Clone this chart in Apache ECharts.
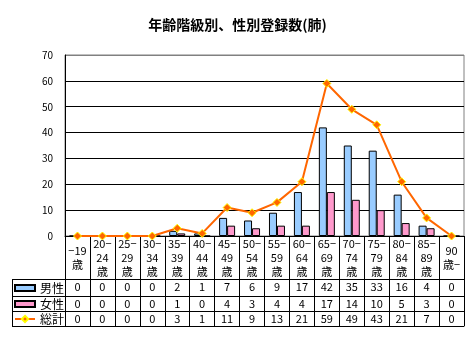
<!DOCTYPE html>
<html><head><meta charset="utf-8">
<script src="https://cdn.jsdelivr.net/npm/echarts@6/dist/echarts.min.js"></script>
<style>html,body{margin:0;padding:0;background:#fff}#c{width:475px;height:338px}</style>
</head><body><div id="c"></div>
<script>
const categories = ['−19\n歳','20−\n24\n歳','25−\n29\n歳','30−\n34\n歳','35−\n39\n歳','40−\n44\n歳','45−\n49\n歳','50−\n54\n歳','55−\n59\n歳','60−\n64\n歳','65−\n69\n歳','70−\n74\n歳','75−\n79\n歳','80−\n84\n歳','85−\n89\n歳','90\n歳−'];
const male   = [0,0,0,0,2,1,7,6,9,17,42,35,33,16,4,0];
const female = [0,0,0,0,1,0,4,3,4,4,17,14,10,5,3,0];
const total  = [0,0,0,0,3,1,11,9,13,21,59,49,43,21,7,0];
const yMax = 70, yStep = 10;

const FONT = 'Noto Sans CJK JP';
const chart = echarts.init(document.getElementById('c'));
function rowAxis(vals, offset, showLabel) {
  return {
    type: 'category', gridIndex: 0, position: 'bottom', offset: offset,
    data: vals.map(String),
    axisLine: {show: true, lineStyle: {color: '#000', width: 1}},
    axisTick: {show: false},
    axisLabel: {show: showLabel, interval: 0, margin: 8, verticalAlign: 'middle', fontSize: 11, color: '#000', fontFamily: FONT},
    splitLine: {show: false}
  };
}
const lineSeg = (x1,y1,x2,y2) => ({type:'line', shape:{x1,y1,x2,y2}, style:{stroke:'#000', lineWidth:1}, silent:true});
const legendText = {fontSize: 12, color: '#000', fontFamily: FONT, lineHeight: 14};
chart.setOption({
  animation: false,
  backgroundColor: '#fff',
  title: {text: '年齢階級別、性別登録数(肺)', left: 'center', top: 13,
    textStyle: {fontSize: 14, fontWeight: 'bold', color: '#000', fontFamily: FONT}},
  grid: {left: 65, right: 11, top: 55, bottom: 102, show: true, borderColor: '#808080', borderWidth: 1, backgroundColor: 'transparent'},
  legend: [
    {data: [{name: '男性', icon: 'rect'}], left: 14, top: 281, padding: 0, itemWidth: 20, itemHeight: 6, textStyle: legendText},
    {data: [{name: '女性', icon: 'rect'}], left: 14, top: 297, padding: 0, itemWidth: 20, itemHeight: 6, textStyle: legendText},
    {data: ['総計'], left: 14, top: 312, padding: 0, itemWidth: 20, itemHeight: 8, textStyle: legendText}
  ],
  xAxis: [
    {type: 'category', data: categories, boundaryGap: true,
     axisLine: {show: true, lineStyle: {color: '#000'}},
     axisTick: {show: true, interval: 0, length: 90, lineStyle: {color: '#000'}},
     axisLabel: {interval: 0, margin: 22, verticalAlign: 'middle', fontSize: 11, lineHeight: 14, color: '#000', fontFamily: FONT}},
    rowAxis(male, 43, true),
    rowAxis(female, 60, true),
    rowAxis(total, 75, true),
    rowAxis(total, 90, false)
  ],
  yAxis: {type: 'value', min: 0, max: yMax, interval: yStep,
    axisLine: {show: true, lineStyle: {color: '#000'}},
    axisTick: {show: false},
    axisLabel: {fontSize: 10, color: '#000', margin: 12, fontFamily: FONT},
    splitLine: {show: true, lineStyle: {color: ['#000','#000','#000','#000','#000','#000','#000','#808080'], width: 1}}},
  graphic: [
    lineSeg(12, 279.5, 65, 279.5),
    lineSeg(12, 296.5, 65, 296.5),
    lineSeg(12, 311.5, 65, 311.5),
    lineSeg(12, 326.5, 65, 326.5),
    lineSeg(12.5, 279.5, 12.5, 326.5)
  ],
  series: [
    {name: '男性', type: 'bar', data: male, barWidth: 8, barGap: '0%',
     itemStyle: {color: '#99CCFF', borderColor: '#000', borderWidth: 1}},
    {name: '女性', type: 'bar', data: female, barWidth: 8, barGap: '0%',
     itemStyle: {color: '#FF99CC', borderColor: '#000', borderWidth: 1}},
    {name: '総計', type: 'line', data: total, z: 5,
     lineStyle: {color: '#FF6600', width: 2},
     symbol: 'diamond', symbolSize: 8, showSymbol: true,
     itemStyle: {color: '#FF6600', borderColor: '#FFFF00', borderWidth: 1}}
  ]
});
</script></body></html>
